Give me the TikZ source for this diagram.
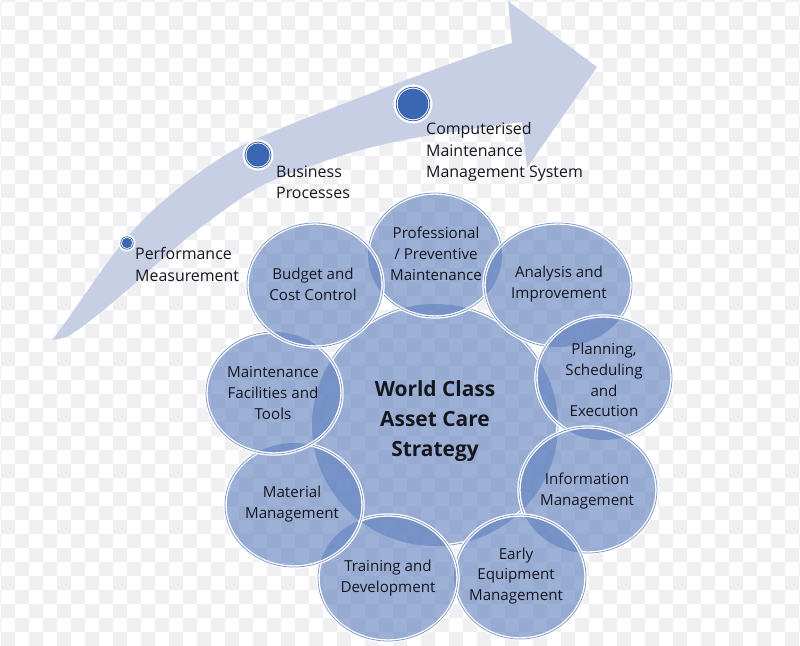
\documentclass[tikz,border=0pt]{standalone}
\usepackage{fontspec}
\setmainfont{Open Sans}
\definecolor{checkgray}{RGB}{240,240,243}
\definecolor{arrowc}{RGB}{198,206,228}
\definecolor{bubble}{RGB}{97,130,190}
\definecolor{ringblue}{RGB}{130,156,207}
\definecolor{dotblue}{RGB}{58,102,178}
\definecolor{txt}{RGB}{22,22,30}
\newcommand\shpC{(435,425) ellipse [x radius=123, y radius=121]}
\newcommand\shpP{(435,255) ellipse [x radius=67, y radius=62]}
\newcommand\shpA{(558,285) ellipse [x radius=74, y radius=62]}
\newcommand\shpL{(604,378) ellipse [x radius=68, y radius=62]}
\newcommand\shpI{(588,490) ellipse [x radius=69, y radius=63]}
\newcommand\shpE{(520,577) ellipse [x radius=66, y radius=62]}
\newcommand\shpT{(388,578) ellipse [x radius=70, y radius=63]}
\newcommand\shpM{(294,505) ellipse [x radius=69, y radius=62]}
\newcommand\shpF{(274,393) ellipse [x radius=68, y radius=61]}
\newcommand\shpB{(315,285) ellipse [x radius=68, y radius=62]}
\newcommand\shpBig{(-50,-50) rectangle (850,700)}
\begin{document}
\begin{tikzpicture}[x=1bp,y=-1bp,
  bubblefill/.style={fill=bubble, fill opacity=0.62},
  rim/.style={draw=white, line width=1.3bp, double=ringblue, double distance=0.8bp},
  satlabel/.style={text=txt, font=\fontsize{15.2}{20.8}\selectfont, align=center, inner sep=0pt},
  corelabel/.style={text=txt, font=\fontsize{21}{30}\selectfont\bfseries, align=center, inner sep=0pt},
  steplabel/.style={text=txt, font=\fontsize{16}{22}\selectfont, align=left, inner sep=0pt, anchor=base west}]
\useasboundingbox (0,0) rectangle (800,646);
\fill[white] (0,0) rectangle (800,646);
\fill[checkgray] \foreach \r in {-1,...,46} { \foreach \k in {0,...,30} { ({-27+28*\k+14*mod(\r+1,2)}, {2+14*\r}) rectangle ++(14,14) } };
% arrow
\fill[arrowc, fill opacity=0.96] (52,340) -- plot[smooth, tension=0.6] coordinates {(52,340) (67,320) (90,287) (117,250) (150,213) (200,172) (254,140) (361,97) (469,57) (512,43)}
  -- (508,1) -- (597,67) -- (527,168) -- (522,122)
  -- plot[smooth, tension=0.6] coordinates {(522,122) (426,136) (361,150) (300,170) (254,190) (200,228) (167,255) (133,285) (100,313) (70,335) (52,340)} -- cycle;
% dots
\fill[white] (127,243) circle (8.5);
\draw[dotblue, line width=0.7bp] (127,243) circle (6.3);
\fill[dotblue] (127,243) circle (5.2);
\fill[white] (258,155) circle (15.5);
\draw[dotblue, line width=0.8bp] (258,155) circle (13);
\fill[dotblue] (258,155) circle (11.6);
\fill[white] (413,104) circle (19.5);
\draw[dotblue, line width=0.8bp] (413,104) circle (16.8);
\fill[dotblue] (413,104) circle (15.3);
% bubble fills
\fill[bubblefill] \shpC;
\fill[bubblefill] \shpP;
\fill[bubblefill] \shpA;
\fill[bubblefill] \shpL;
\fill[bubblefill] \shpI;
\fill[bubblefill] \shpE;
\fill[bubblefill] \shpT;
\fill[bubblefill] \shpM;
\fill[bubblefill] \shpF;
\fill[bubblefill] \shpB;
% rims
\begin{scope}[even odd rule]\clip \shpBig \shpP \shpA \shpL \shpI \shpE \shpT \shpM \shpF \shpB; \draw[rim] \shpC; \end{scope}
\begin{scope}[even odd rule]\clip \shpBig \shpA \shpB; \draw[rim] \shpP; \end{scope}
\begin{scope}[even odd rule]\clip \shpBig \shpL; \draw[rim] \shpA; \end{scope}
\begin{scope}[even odd rule]\clip \shpBig \shpI; \draw[rim] \shpL; \end{scope}
\begin{scope}[even odd rule]\clip \shpBig \shpE; \draw[rim] \shpI; \end{scope}
\begin{scope}[even odd rule]\clip \shpBig \shpT; \draw[rim] \shpE; \end{scope}
\begin{scope}[even odd rule]\clip \shpBig \shpM; \draw[rim] \shpT; \end{scope}
\begin{scope}[even odd rule]\clip \shpBig \shpF; \draw[rim] \shpM; \end{scope}
\begin{scope}[even odd rule]\clip \shpBig \shpB; \draw[rim] \shpF; \end{scope}
\draw[rim] \shpB;
% texts
\node[corelabel] (core) at (435,421) {World Class\\Asset Care\\Strategy};
\node[satlabel] (prof) at (436,254) {Professional\\/ Preventive\\Maintenance};
\node[satlabel] (anal) at (559,284) {Analysis and\\Improvement};
\node[satlabel] (plan) at (604,380) {Planning,\\Scheduling\\and\\Execution};
\node[satlabel] (info) at (587,491) {Information\\Management};
\node[satlabel] (early) at (516,576) {Early\\Equipment\\Management};
\node[satlabel] (train) at (388,578) {Training and\\Development};
\node[satlabel] (mat) at (292,504) {Material\\Management};
\node[satlabel] (fac) at (273,393) {Maintenance\\Facilities and\\Tools};
\node[satlabel] (budget) at (313,284) {Budget and\\Cost Control};
\node[steplabel] (perf) at (135,281) {Performance\\Measurement};
\node[steplabel] (bus) at (276,199) {Business\\Processes};
\node[steplabel] (cmms) at (426,178) {Computerised\\Maintenance\\Management System};
\end{tikzpicture}
\end{document}
